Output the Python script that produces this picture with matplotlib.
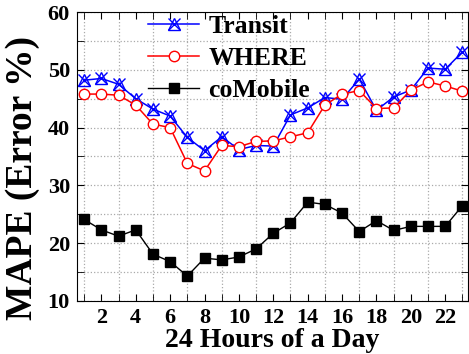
import matplotlib
matplotlib.use("Agg")
import matplotlib.pyplot as plt
from matplotlib.legend_handler import HandlerTuple

plt.rcParams["font.family"] = ["Liberation Serif", "DejaVu Serif"]
plt.rcParams["font.weight"] = "bold"

hours = list(range(1, 24))
transit = [48.2, 48.5, 47.5, 45.0, 43.2, 42.0, 38.3, 36.0, 38.4, 36.2, 36.9,
           36.8, 42.2, 43.4, 45.2, 44.9, 48.4, 43.0, 45.3, 46.5, 50.3, 50.1, 53.1]
where = [45.8, 45.8, 45.6, 43.9, 40.6, 40.0, 33.8, 32.5, 36.9, 36.7, 37.6,
         37.7, 38.4, 39.1, 43.9, 45.8, 46.4, 43.3, 43.4, 46.5, 47.9, 47.2, 46.3]
comobile = [24.1, 22.3, 21.2, 22.3, 18.1, 16.8, 14.3, 17.4, 17.1, 17.6, 19.0,
            21.7, 23.5, 27.1, 26.7, 25.2, 22.0, 23.9, 22.2, 22.9, 22.9, 22.9, 26.5]
even_ticks = list(range(2, 24, 2))
odd_ticks = list(range(1, 24, 2))

fig = plt.figure(figsize=(4.69, 3.54), dpi=100)
ax = fig.add_axes([0.164, 0.150, 0.833, 0.816])

t1, = ax.plot(hours, transit, color="blue", lw=1.1, marker="^", ms=8,
              mfc="none", mec="blue", mew=1.0)
t2, = ax.plot(hours, transit, color="blue", lw=0, marker="x", ms=9,
              mec="blue", mew=1.0)
w, = ax.plot(hours, where, color="red", lw=1.1, marker="o", ms=7.5,
             mfc="white", mec="red", mew=1.0)
c, = ax.plot(hours, comobile, color="black", lw=1.0, marker="s", ms=7,
             mfc="black", mec="black")

ax.set_xlim(0.58, 23.3)
ax.set_ylim(10, 60)
ax.set_xticks(even_ticks)
ax.set_xticks(odd_ticks, minor=True)
ax.set_yticks(range(10, 61, 10))
ax.set_yticks(range(15, 60, 10), minor=True)
ax.tick_params(which="both", direction="in", top=True, right=True,
               labelsize=16, pad=5, length=5)
for lab in ax.get_xticklabels() + ax.get_yticklabels():
    lab.set_fontweight("bold")
ax.grid(True, which="minor", axis="x", ls=":", color="#aaaaaa", lw=0.9)
ax.grid(True, which="both", axis="y", ls=":", color="#aaaaaa", lw=0.9)
ax.grid(False, which="major", axis="x")

ax.set_xlabel("24 Hours of a Day", fontsize=20, fontweight="bold", labelpad=0)
ax.set_ylabel("MAPE (Error %)", fontsize=27, fontweight="bold")
ax.yaxis.set_label_coords(-0.095, 0.425)

leg = ax.legend([(t1, t2), w, c], ["Transit", "WHERE", "coMobile"],
                handler_map={tuple: HandlerTuple(ndivide=1)},
                loc="upper left", bbox_to_anchor=(148 / 469, 1 - 15 / 354),
                bbox_transform=fig.transFigure, frameon=False,
                borderpad=0, borderaxespad=0,
                prop={"size": 18.5, "weight": "bold"}, handlelength=2.0,
                handletextpad=0.35, labelspacing=0.35)

fig.savefig("out.png", dpi=100)
